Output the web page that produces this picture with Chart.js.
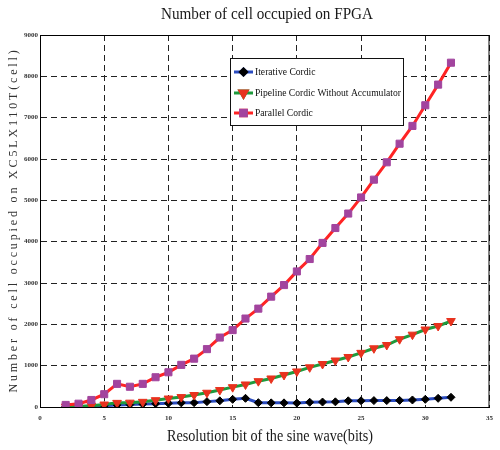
<!DOCTYPE html>
<html>
<head>
<meta charset="utf-8">
<script src="https://cdn.jsdelivr.net/npm/chart.js@4/dist/chart.umd.min.js"></script>
<style>
  html, body { margin: 0; padding: 0; background: #fff; }
  #wrap { width: 500px; height: 450px; }
</style>
</head>
<body>
<div id="wrap"><canvas id="c" width="500" height="450"></canvas></div>
<script>
// Resolution in bits (x) and cells used on the XC5LX110T for each CORDIC design
const bits = [2,3,4,5,6,7,8,9,10,11,12,13,14,15,16,17,18,19,20,21,22,23,24,25,26,27,28,29,30,31,32];
const iterativeCells = [10,15,20,30,50,60,70,80,90,100,105,130,150,185,210,105,100,100,95,115,120,125,150,150,155,155,160,170,185,210,235];
const pipelineCells = [10,15,30,60,100,105,125,165,205,240,290,345,410,480,545,625,690,775,860,960,1040,1125,1210,1310,1420,1500,1640,1750,1875,1960,2080];
const parallelCells = [50,80,170,310,560,490,560,720,840,1020,1170,1400,1680,1860,2140,2380,2670,2950,3280,3580,3970,4330,4680,5070,5500,5920,6370,6800,7300,7800,8330];
const seriesNames = ['Iterative Cordic', 'Pipeline Cordic Without Accumulator', 'Parallel Cordic'];
const xTicks = [0,5,10,15,20,25,30,35];
const yTicks = [0,1000,2000,3000,4000,5000,6000,7000,8000,9000];

const chartTitle = 'Number of cell occupied on FPGA';
const xTitle = 'Resolution bit of the sine wave(bits)';
const yTitle = 'Number of cell occupied on XC5LX110T(cell)';

const toXY = (vals) => vals.map((v, i) => ({ x: bits[i], y: v }));

// Draws a line of text squeezed horizontally to a given width
function condensedText(ctx, text, cx, cy, targetW, font) {
  ctx.save();
  ctx.font = font;
  const w = ctx.measureText(text).width;
  const sx = Math.min(1, targetW / w);
  ctx.translate(cx, cy);
  ctx.scale(sx, 1);
  ctx.textAlign = 'center';
  ctx.textBaseline = 'middle';
  ctx.fillText(text, 0, 0);
  ctx.restore();
}

// Solid frame around the plot, titles and the inset legend
const decorations = {
  id: 'decorations',
  afterDatasetsDraw(chart) {
    const { ctx, chartArea: a } = chart;
    ctx.save();
    ctx.strokeStyle = '#000';
    ctx.lineWidth = 1;
    ctx.strokeRect(a.left + 0.5, a.top + 0.5, a.right - a.left - 1, a.bottom - a.top);
    ctx.restore();

    // legend box
    const bx = 230, by = 58, bw = 173, bh = 67;
    ctx.save();
    ctx.fillStyle = '#fff';
    ctx.fillRect(bx, by, bw, bh);
    ctx.strokeStyle = '#111';
    ctx.lineWidth = 1;
    ctx.strokeRect(bx + 0.5, by + 0.5, bw, bh);
    ctx.font = '11px "Liberation Serif"';
    const longest = ctx.measureText(seriesNames[1]).width;
    const sx = 146 / longest;
    const rows = [72, 93, 113];
    chart.data.datasets.forEach((ds, i) => {
      const y = rows[i];
      ctx.strokeStyle = ds.borderColor;
      ctx.lineWidth = 3;
      ctx.beginPath();
      ctx.moveTo(234, y);
      ctx.lineTo(253, y);
      ctx.stroke();
      Chart.helpers.drawPoint(ctx, {
        pointStyle: ds.pointStyle,
        radius: ds.pointRadius - 1,
        rotation: ds.pointRotation || 0,
        borderWidth: 1
      }, 243.5, y);
      ctx.fillStyle = ds.pointBackgroundColor;
      ctx.strokeStyle = ds.pointBorderColor;
      ctx.fill();
      ctx.stroke();
      ctx.save();
      ctx.fillStyle = '#111';
      ctx.translate(255, y);
      ctx.scale(sx, 1);
      ctx.textAlign = 'left';
      ctx.textBaseline = 'middle';
      ctx.fillText(ds.label, 0, 0.5);
      ctx.restore();
    });
    ctx.restore();

    // titles
    ctx.save();
    ctx.fillStyle = '#1a1a1a';
    condensedText(ctx, chartTitle, 267, 15, 212, '16px "Liberation Serif"');
    condensedText(ctx, xTitle, 270, 437, 206, '17px "Liberation Serif"');
    ctx.translate(14, 220);
    ctx.rotate(-Math.PI / 2);
    ctx.font = '12px "Liberation Serif"';
    const w = ctx.measureText(yTitle).width;
    ctx.letterSpacing = ((345 - w) / yTitle.length).toFixed(2) + 'px';
    ctx.fillStyle = '#333';
    ctx.textAlign = 'center';
    ctx.textBaseline = 'middle';
    ctx.fillText(yTitle, 0, 0);
    ctx.restore();
  }
};

const gridStyle = { color: '#222', lineWidth: 1, drawTicks: false };
const borderStyle = { display: true, color: '#000', width: 1, dash: [6, 4] };
const tickFont = { family: 'Liberation Serif', size: 7, weight: 'bold' };

new Chart(document.getElementById('c'), {
  type: 'line',
  data: {
    datasets: [
      {
        label: seriesNames[0],
        data: toXY(iterativeCells),
        borderColor: '#2b4cc0',
        borderWidth: 3,
        pointStyle: 'rectRot',
        pointRadius: 4,
        pointBackgroundColor: '#000',
        pointBorderColor: '#000',
        pointBorderWidth: 1,
        order: 3
      },
      {
        label: seriesNames[1],
        data: toXY(pipelineCells),
        borderColor: '#1f9a3c',
        borderWidth: 3,
        pointStyle: 'triangle',
        pointRotation: 180,
        pointRadius: 5,
        pointBackgroundColor: '#e8321e',
        pointBorderColor: '#e8321e',
        pointBorderWidth: 1,
        order: 2
      },
      {
        label: seriesNames[2],
        data: toXY(parallelCells),
        borderColor: '#ff2424',
        borderWidth: 3,
        pointStyle: 'rect',
        pointRadius: 5,
        pointBackgroundColor: '#a2449e',
        pointBorderColor: '#a2449e',
        pointBorderWidth: 1,
        order: 1
      }
    ]
  },
  options: {
    responsive: false,
    animation: false,
    layout: { padding: { top: 35, right: 2, left: 0, bottom: 0 } },
    plugins: { legend: { display: false }, title: { display: false }, tooltip: { enabled: false } },
    scales: {
      x: {
        type: 'linear',
        min: 0, max: 35,
        afterFit(s) { s.height = 43; },
        afterBuildTicks(s) { s.ticks = xTicks.map(v => ({ value: v })); },
        grid: gridStyle,
        border: borderStyle,
        ticks: { font: tickFont, color: '#333', padding: 7, callback: v => String(v) }
      },
      y: {
        type: 'linear',
        min: 0, max: 9000,
        afterFit(s) { s.width = 40; },
        afterBuildTicks(s) { s.ticks = yTicks.map(v => ({ value: v })); },
        grid: gridStyle,
        border: borderStyle,
        ticks: { font: tickFont, color: '#333', padding: 2, callback: v => String(v) }
      }
    }
  },
  plugins: [decorations]
});
</script>
</body>
</html>
